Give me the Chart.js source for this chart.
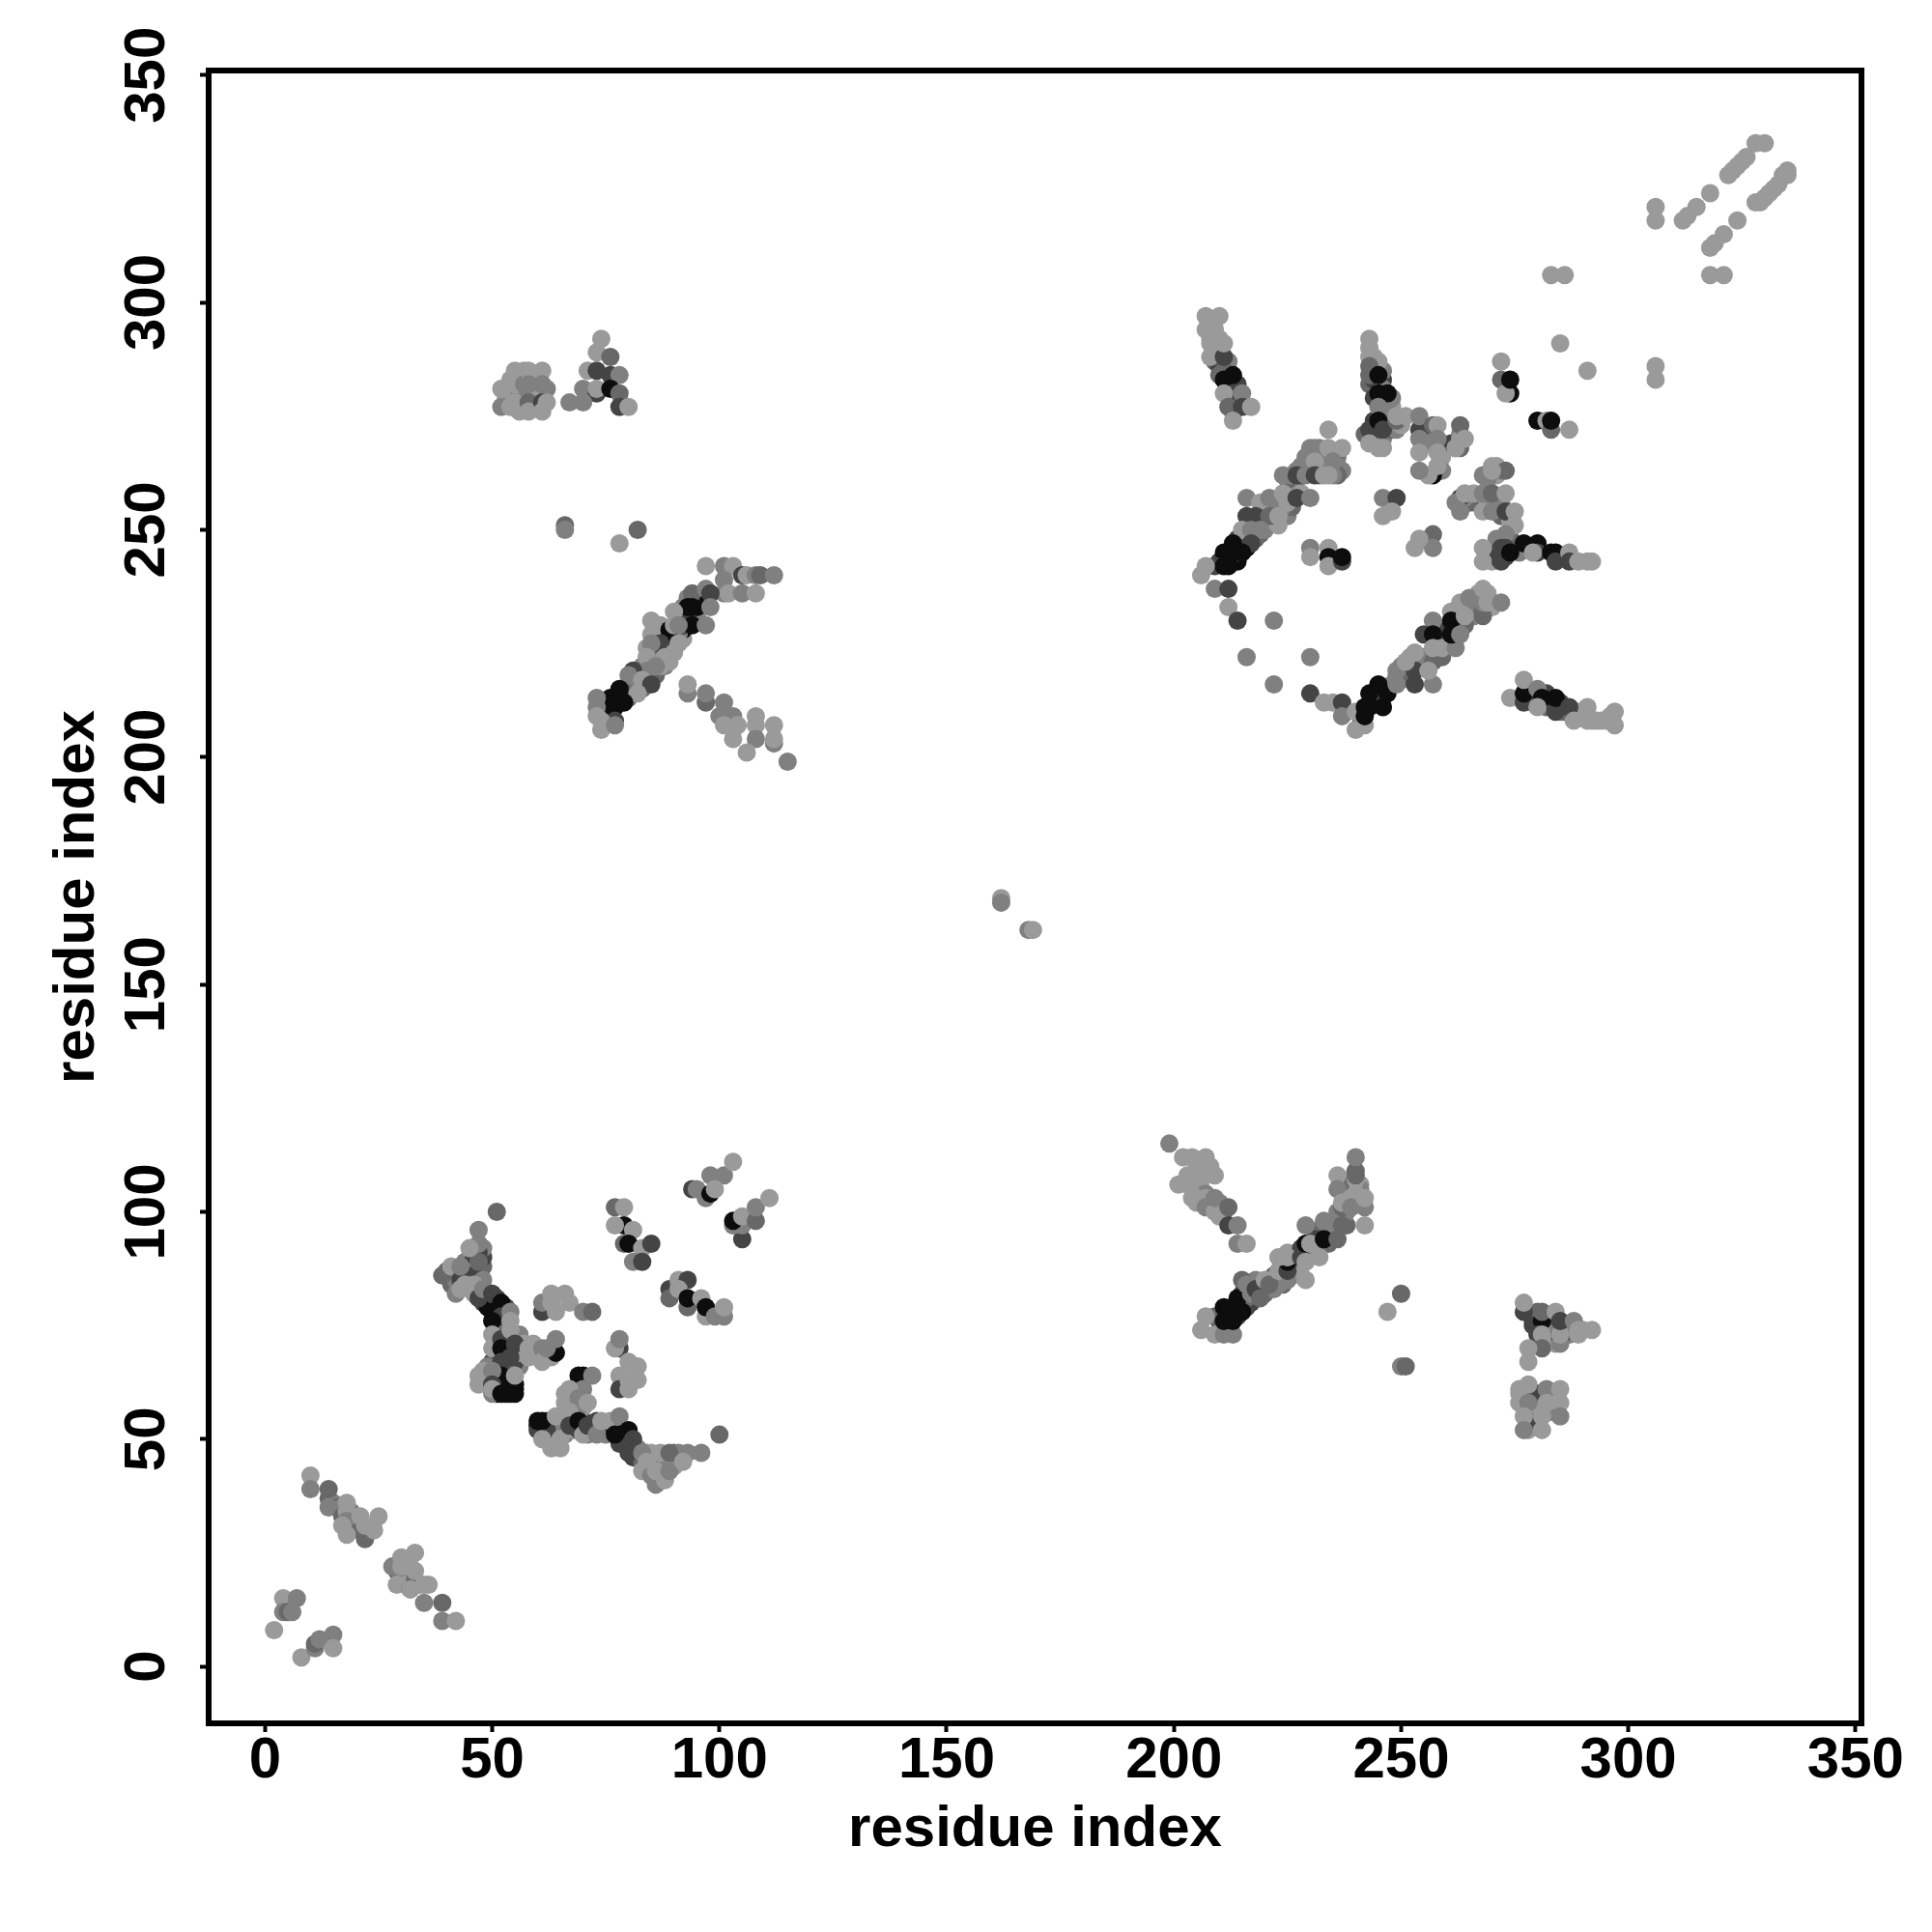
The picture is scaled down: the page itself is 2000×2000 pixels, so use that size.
<!DOCTYPE html>
<html>
<head>
<meta charset="utf-8">
<title>contact map</title>
<script src="https://cdn.jsdelivr.net/npm/chart.js@4/dist/chart.umd.min.js"></script>
<style>
  html, body { margin: 0; padding: 0; background: #fff; }
  canvas { display: block; }
</style>
</head>
<body>
<canvas id="contact_map" width="2000" height="2000"></canvas>
<script>
// each contact: [residue i, residue j, strength 0 (weak) .. 4 (strong)]
const nearDiagonalStart = [
  [10,42,0],[10,39,1],[14,39,2],[14,35,1],[17,33,2],[18,36,0],[18,34,0],[18,32,1],[17,31,0],[21,30,2],[22,28,2],[18,29,0],[22,31,0],[21,33,0],[25,33,0],[24,30,0],
  [28,22,1],[33,25,0],[30,24,0],[30,22,0],[33,21,0],[29,18,0],[32,17,2],[32,17,0],[35,18,0],[36,18,0],[35,14,1],[39,14,2],[39,10,1],[42,10,0],
  [4,15,0],[7,15,1],[4,12,1],[5,12,2],[6,12,1],[2,8,0],[8,2,0],[11,4,1],[11,5,2],[12,6,1],[15,7,1],[15,4,0]
];
const lowerLeftBlock = [
  [51,100,2],[47,96,1],[47,91,3],[47,93,1],[47,89,2],[45,92,0],[39,86,2],[41,88,0],[43,85,3],[43,88,1],[43,83,0],[44,84,0],[46,84,0],[47,81,3],[48,83,1],[50,82,3],
  [52,80,4],[50,78,4],[52,77,3],[50,76,4],[54,78,1],[54,76,0],[50,73,0],[50,70,0],[52,72,3],[52,70,4],[54,74,0],[55,71,3],[54,68,3],[58,70,0],[58,68,0],[61,70,1],[61,67,0],[64,69,4],[62,70,1],[64,72,1],
  [52,67,3],[52,64,4],[53,62,4],[48,65,0],[48,63,0],[50,65,1],[50,62,3],[50,61,0],[52,60,4],[54,60,4],[55,61,4],[55,64,0],
  [61,78,3],[61,80,1],[63,82,0],[66,82,0],[64,78,0],[67,80,0],[63,80,0],[70,78,1],[72,78,2],
  [77,101,2],[79,101,0],[79,97,4],[77,97,0],[81,96,0],[79,93,2],[80,93,4],[83,92,0],[85,93,3],[81,89,1],[83,89,3],
  [98,108,1],[101,108,1],[103,111,0],[94,105,3],[95,105,1],[97,103,1],[98,104,4],[99,105,0],
  [105,94,3],[105,97,1],[103,97,1],[103,98,4],[105,99,0],[108,98,2],[108,101,1],[111,103,0],
  [89,83,3],[89,81,2],[91,85,0],[93,85,3],[91,83,0],[93,79,2],[93,81,4],[96,81,0],[97,77,0],[97,79,4],[99,77,1],[101,77,1],[101,79,0],
  [78,70,3],[77,70,0],[78,72,1],[80,67,0],[82,66,0],[78,64,0],[78,61,3],[80,61,0],[80,63,0],[82,63,0],
  [69,64,4],[70,64,4],[72,64,1],[70,61,1],[67,61,0],[67,58,0],[69,59,1],[71,58,0],[67,56,0],
  [60,52,3],[62,52,3],[60,54,4],[61,54,4],[64,55,0],[61,50,0],[63,48,0],[65,48,0],[65,50,0],[67,53,3],[69,54,4],[70,51,0],[71,53,3],[73,54,3],[73,51,1],[74,54,0],[76,54,0],[78,55,1],
  [77,51,4],[80,52,4],[81,50,3],[80,47,3],[83,47,1],[87,47,0],[84,45,0],[83,43,0],[86,40,1],[85,42,1],[86,43,0],[88,41,0],[89,47,2],[89,43,1],[93,47,1],[92,45,0],[96,47,1],[100,51,2]
];
const lowerRightBlock = [
  [199,115,1],[202,112,0],[204,112,0],[207,112,0],[207,111,0],[203,108,0],[201,106,0],[207,108,0],[209,108,0],[204,103,0],[205,103,0],[207,101,1],[209,100,0],[209,103,1],[212,101,2],[212,97,3],[214,97,1],[214,93,1],[216,93,0],
  [209,77,2],[207,77,0],[206,74,0],[209,73,0],[211,73,1],[213,73,1],[211,79,4],[211,76,4],[213,76,4],[213,79,4],[215,78,4],[214,81,4],
  [215,85,2],[216,84,1],[217,82,1],[218,83,3],[219,81,2],[220,85,0],[221,84,2],[225,85,1],[223,87,0],[225,87,3],[225,89,4],[223,90,0],[225,90,0],
  [228,90,3],[229,93,4],[229,89,0],[230,93,0],[232,90,0],[229,97,1],[229,85,0],[233,94,4],[233,98,1],[236,94,2],[237,97,2],
  [240,112,1],[240,107,0],[240,108,2],[236,108,0],[236,105,1],[237,101,2],[240,104,0],[239,103,0],[237,102,0],[239,101,1],[242,101,1],[242,103,0],[242,97,0],
  [250,82,2],[247,78,0],[250,66,1],[251,66,2],
  [277,78,3],[277,80,0],[281,76,4],[281,78,2],[284,78,0],[280,73,3],[281,73,0],[285,72,3],[285,71,1],[285,73,0],[285,76,3],[288,76,1],[289,73,0],[289,74,0],[292,74,0],[281,70,2],[278,70,0],[278,67,0],
  [277,59,3],[278,54,3],[280,60,3],[276,61,0],[278,62,0],[276,58,0],[278,58,1],[282,61,1],[285,61,0],[285,58,0],[282,58,0],[285,55,1],[277,55,0],[281,55,0],[277,52,1],[281,52,0]
];
const upperLeftBlock = [
  [52,281,0],[52,277,1],[54,277,0],[55,285,0],[55,282,0],[55,278,0],[57,282,1],[58,285,0],[58,282,1],[58,278,2],[58,276,0],[61,285,0],[61,282,1],[61,278,3],[61,276,0],[62,278,0],
  [74,292,0],[73,289,0],[76,288,2],[71,285,0],[73,285,3],[76,284,3],[78,284,1],[70,281,1],[73,280,3],[73,281,0],[76,281,4],[78,280,2],[67,278,1],[70,278,1],[78,277,3],[80,277,0],
  [66,251,2],[66,250,1],[82,250,2],[78,247,0],
  [97,242,0],[101,242,1],[103,242,0],[105,240,3],[106,240,0],[108,240,1],[109,240,2],[112,240,1],[101,239,1],[101,236,1],[102,236,0],[105,236,1],[108,236,0],
  [94,236,2],[97,237,1],[98,236,3],[98,233,1],[93,233,4],[94,233,4],[90,232,0],[94,229,4],[97,229,1],[85,230,0],[87,229,0],[89,228,4],[90,229,0],[91,229,1],[89,225,4],[91,225,0],[87,225,3],[90,223,0],[85,225,1],[88,222,0],[84,222,0],[86,220,1],[84,219,1],[81,219,3],[80,218,1],[83,217,0],[85,216,3],[82,214,0],
  [78,215,4],[76,213,4],[79,212,4],[76,210,4],[77,211,4],[77,208,3],[73,213,1],[73,211,1],[73,209,0],[74,208,0],[74,206,0],[77,207,1],
  [93,214,1],[93,216,0],[97,212,2],[97,214,1],[101,212,1],[100,209,1],[103,209,1],[101,207,0],[104,207,0],[108,209,0],[112,207,0],[108,207,0],[103,204,0],[108,204,1],[112,203,1],[112,204,0],[106,201,0],[115,199,1]
];
const upperRightBlock = [
  [207,297,0],[210,297,0],[207,294,0],[208,292,0],[208,291,0],[208,288,0],[211,288,3],[210,292,0],[211,291,0],[210,284,2],[211,283,4],[213,284,4],[213,280,3],[211,280,0],[215,280,1],[212,277,2],[215,277,3],[217,277,0],[213,274,0],
  [243,292,0],[243,290,0],[243,288,0],[245,287,0],[243,286,2],[243,284,2],[245,284,4],[245,280,4],[247,280,4],[245,277,1],[247,276,1],[243,272,3],[244,272,3],[245,274,4],[246,272,3],[243,269,0],[245,268,0],[246,268,0],[249,274,2],[249,275,0],[251,275,0],
  [254,272,3],[254,275,1],[254,270,1],[254,267,0],[257,273,2],[258,273,0],[258,270,1],[258,267,0],[257,262,4],[256,262,0],[254,263,1],[258,264,0],[263,273,2],[262,268,1],[262,268,0],[264,270,0],
  [272,287,0],[272,283,2],[274,280,4],[273,280,0],[274,283,4],[280,274,4],[282,274,0],[283,272,2],[283,274,4],[287,272,0],[285,291,0],[291,285,0],
  [234,272,0],[230,268,1],[231,268,1],[234,268,0],[237,268,0],[235,265,1],[231,265,0],[234,262,0],[224,262,1],[227,263,1],[227,262,3],[229,262,1],[231,262,3],[233,262,0],
  [216,257,1],[219,256,0],[221,257,1],[224,258,0],[227,257,3],[230,257,1],[216,253,3],[218,253,3],[221,253,2],[223,253,0],[215,250,0],[217,250,1],[219,250,1],
  [217,247,3],[213,247,4],[211,245,4],[215,245,4],[213,245,4],[209,242,3],[211,242,4],[212,242,4],[207,242,0],[206,240,0],[209,237,1],[212,233,0],[212,237,3],[214,230,3],[222,230,1],[216,222,1],[230,222,1],[222,216,1],[230,214,3],[233,212,0],[235,212,0],[237,212,3],[237,209,1],
  [240,210,0],[240,206,0],[242,207,0],[242,209,4],[242,211,4],[243,214,4],[246,211,4],[245,216,4],[247,214,4],[249,219,1],[249,216,1],[253,216,3],[253,219,3],[251,221,0],[253,223,0],
  [257,230,1],[255,227,3],[257,227,4],[257,221,2],[257,224,0],[259,224,0],[262,224,1],[257,216,1],[256,219,0],
  [261,230,4],[261,227,4],[263,227,1],[263,234,0],[265,235,1],[264,231,0],[268,231,2],[268,234,1],[268,237,0],[269,234,0],[272,234,1],
  [230,246,1],[230,244,0],[234,246,0],[234,244,4],[234,242,0],[237,243,3],[237,244,4],
  [246,257,1],[249,257,3],[246,253,0],[248,254,0],[257,249,2],[257,246,1],[254,248,0],[253,246,0],
  [270,264,0],[273,263,2],[268,262,1],[270,263,0],[263,257,3],[262,256,1],[264,258,0],[263,254,1],[268,258,1],[270,258,2],[273,258,0],[268,254,0],[270,254,1],[273,254,3],[275,254,0],[275,251,0],
  [268,246,0],[268,243,0],[273,249,1],[272,246,3],[273,246,3],[272,243,3],[274,245,4],[277,247,4],[280,247,4],[280,245,3],[279,245,0],[283,245,4],[284,245,4],[284,243,3],[287,245,0],[287,243,3],[289,243,0],[291,243,0],[292,243,0],
  [274,213,0],[277,212,3],[277,214,4],[277,217,0],[280,215,1],[281,213,4],[280,211,0],[284,210,3],[284,213,4],[287,211,3],[288,208,0],[291,211,0],[292,208,0],[294,208,0],[297,210,0],[297,207,0]
];
const centreContacts = [[162,169,0],[162,168,1],[168,162,1],[169,162,0]];
const tailContacts = [
  [328,335,0],[330,335,0],[322,328,0],[323,329,0],[324,330,0],[325,331,0],[326,332,0],
  [335,329,0],[335,328,0],[334,328,0],[328,322,0],[329,322,0],[330,323,0],[331,324,0],[332,325,0],[333,326,0],
  [318,324,0],[315,321,0],[313,319,0],[312,318,0],[306,321,0],[306,318,0],[324,318,0],[321,315,0],[319,313,0],[318,312,0],
  [318,306,0],[321,306,0],[283,306,0],[286,306,0],[306,286,0],[306,283,0]
];

// denser contacts that sit underneath the ones above
const nearDiagonalBand = [
  [14,37,2],[15,36,1],[16,35,2],[17,35,1],[19,34,1],[20,32,1],[20,31,1],[23,30,1],[22,29,2],[19,30,0],[29,21,2],[31,20,1],[30,19,1],[31,18,0],[33,18,1],[34,18,0],[33,19,2],[32,22,0],[31,23,0]
];
const lowerLeftBand = [
  [41,84,2],[42,82,1],[44,89,1],[46,88,3],[46,90,3],[46,92,0],[48,88,2],[48,90,3],[48,92,1],[55,60,4],[54,63,4],[50,63,3],[50,67,3],[51,60,4],[53,74,3],[52,75,4],[51,74,2],[52,73,4],
  [40,87,2],[41,86,1],[42,85,1],[42,87,2],[44,87,1],[44,86,2],[45,86,1],[45,84,1],[46,86,3],[46,82,0],[48,85,1],[48,80,3],[49,81,3],[49,79,4],[51,79,4],[51,81,3],[51,77,4],[53,79,3],[53,75,1],[53,73,2],[53,71,4],[54,72,3],[51,72,1],[51,70,2],[53,69,3],[54,70,4],[56,73,1],[56,70,3],[56,66,1],[55,67,3],[53,66,2],[51,67,3],[49,66,1],[49,64,2],[51,64,3],[51,62,4],[53,60,4],[53,64,3],[49,62,1],[47,64,0],[47,62,0],[50,60,1],[55,62,4],[54,61,4],
  [56,69,0],[57,71,0],[59,69,0],[60,68,0],[59,71,0],[63,70,1],[63,68,0],
  [60,53,4],[61,52,4],[62,54,3],[62,50,0],[63,52,2],[63,50,1],[64,53,3],[64,51,0],[66,53,3],[66,51,1],[65,54,1],[68,53,3],[68,55,1],[68,52,0],[69,52,3],[70,54,3],[70,53,4],[71,51,1],[72,53,3],[72,52,2],[74,52,1],[75,53,0],[75,51,1],[76,52,1],[77,52,4],[78,52,4],[79,50,4],[78,49,3],[80,49,3],[81,48,2],[82,46,1],[81,46,3],[82,48,1],[83,45,2],[84,47,1],[84,43,1],[85,44,2],[85,47,0],[86,45,1],[87,44,1],[87,42,0],[88,45,2],[88,46,1],[90,46,1],[90,44,0],[90,47,2],[91,47,1],
  [66,60,0],[66,58,0],[68,59,0],[68,56,0],[66,55,1],[70,57,0],[69,57,1]
];
const lowerRightBand = [
  [218,85,1],[219,82,3],[220,83,3],[222,85,3],[223,85,3],[224,84,2],[217,80,3],[215,82,3],[224,89,3],[226,89,4],
  [210,76,4],[212,78,4],[212,75,4],[214,77,3],[215,80,4],[216,79,3],[216,81,2],[217,84,1],[218,82,2],[219,83,2],[220,82,2],[220,84,1],[221,83,2],[222,83,1],[222,86,2],[223,84,1],[223,86,1],[224,85,1],[224,87,2],[226,86,1],[226,88,1],[227,87,1],[227,89,1],[228,86,0],[227,91,0],[226,90,3],[224,90,1],[225,91,0],[228,92,3],[230,91,1],[231,92,1],[232,96,2],[231,94,3],[234,93,2],[235,96,3],[234,97,1],[238,97,2],[238,100,1],[236,100,1],[238,104,1],[237,106,1],[241,102,1],[241,106,0],[241,105,1],[239,105,1],[238,107,0],[239,106,2],[240,109,2],
  [203,106,0],[205,110,0],[206,109,0],[205,108,0],[208,110,0],[206,105,0],[207,104,1],[208,102,0],[210,102,1],[211,100,2],[207,103,0],[206,102,1],[205,102,0],[210,99,0],
  [279,76,3],[280,78,2],[282,75,4],[283,77,1],[283,75,3],[284,74,2],[283,73,1],[286,75,2],[287,74,1],[287,73,1],[290,74,0],[279,75,3],[282,72,3],[284,71,0],
  [276,60,0],[277,57,1],[279,60,0],[279,57,1],[278,56,0],[280,58,0],[281,60,1],[282,60,0],[283,59,0],[284,57,0],[281,57,0],[283,56,1],[279,53,0],[278,52,0]
];
const upperLeftBand = [
  [80,213,2],[81,214,1],[82,216,3],[83,215,2],[84,216,1],[84,218,3],[85,219,2],[85,218,1],[86,218,2],[82,219,1],[83,220,1],[85,223,1],[86,226,2],[87,227,1],[88,227,2],[88,220,1],[87,220,0],[89,222,1],[90,225,1],[90,227,4],[92,226,0],[89,221,0],[84,224,0],[85,227,0],[86,229,0],[92,233,1],[95,231,1],[96,234,2],[95,235,4],[93,235,1],[92,228,4],[95,233,4],
  [53,279,0],[54,283,0],[56,284,0],[57,285,0],[59,283,0],[60,284,0],[56,280,1],[59,279,1],[60,280,0],[57,277,0],[59,277,0],[60,277,0],[56,276,0],[62,281,1],
  [77,212,4],[78,213,4],[79,214,4],[80,215,3],[81,216,2],[83,218,2],[82,217,1],[84,220,2],[85,221,1],[86,222,1],[86,224,1],[87,223,2],[88,224,1],[88,226,0],[89,227,3],[91,227,1],[92,231,0],[91,232,1],[92,229,3],[93,231,3]
];
const upperRightBand = [
  [213,243,4],[210,243,3],[214,243,4],[216,246,4],[214,248,3],[216,250,1],[218,248,2],[218,252,2],[219,249,2],[220,250,1],[220,251,2],[221,251,1],[223,255,1],[225,253,1],[226,255,2],[223,251,0],[227,259,1],[228,258,0],[231,264,2],[233,267,2],[235,263,2],[236,266,1],[236,267,2],[234,267,1],[232,263,3],
  [212,244,4],[214,245,3],[215,247,3],[216,248,2],[217,249,2],[218,250,2],[219,251,1],[220,252,1],[220,253,2],[222,254,1],[222,252,0],[224,255,1],[225,256,0],[226,257,0],
  [241,209,4],[243,211,4],[244,212,4],[245,213,4],[246,214,3],[247,215,3],[248,216,1],[249,218,1],[250,217,1],[250,220,1],[251,218,2],[252,220,1],[252,222,0],[253,221,2],[254,221,1],[255,222,1],
  [244,270,3],[242,271,2],[244,274,3],[246,274,2],[246,270,1],[247,272,1],[248,274,1],[248,272,2],[249,272,1],[250,273,0],[256,272,2],[255,271,2],[256,269,1],[257,269,1],[259,268,0],[259,266,0],[259,263,1],[261,269,3],[263,271,1],[263,268,2],[263,270,0],
  [269,245,0],[270,245,0],[270,243,0],[271,244,3],[272,248,3],[273,244,3],[274,248,3],[275,247,2],[276,245,1],[271,248,1],[271,257,1],[269,257,1],[272,256,1],[272,253,2],[274,252,0],[269,255,1],[267,257,1],[266,256,0],[265,256,2],[264,257,1],[266,258,0],[269,262,0],[271,262,0],[272,263,1],[271,264,0],[269,261,1],
  [278,213,3],[279,212,3],[282,214,3],[282,211,2],[283,212,3],[285,212,3],[285,210,1],[286,210,2],[288,210,1],[289,209,1],[290,209,0],[289,210,0],[293,208,0],[295,208,0],[296,208,0],[296,209,0],[290,210,0],[291,208,0],
  [259,222,2],[260,226,3],[262,228,0],[262,231,1],[263,230,1],[264,233,0],[265,232,1],[265,233,0],[266,231,1],[266,234,1],[267,236,0],[267,233,1],[268,232,2],[269,236,0],[270,233,0],[261,232,0],[260,228,3],[264,229,2],
  [228,262,3],[230,263,1],[232,265,1],[232,268,1],[233,266,1],[234,264,1],[235,267,0],[236,264,1],[237,263,1],[236,262,2],[235,262,1],[233,264,1],[232,262,2],[225,261,2],[226,262,1],[228,264,1],[230,265,1],[229,266,1],
  [209,294,0],[209,290,0],[210,289,0],[209,287,2],[210,286,3],[212,285,3],[212,287,1],[211,285,2],[212,282,3],[212,280,4],[213,278,4],[214,282,3],[214,278,2],[213,276,2],[215,278,2],
  [243,282,2],[244,283,3],[246,283,3],[246,285,1],[244,288,0],[244,285,1],[246,281,1],[246,279,3],[244,279,3],[246,277,1],[248,277,0],[248,279,1]
];
// datasets paint last to first, so the band lists go at the end
const contactGroups = [nearDiagonalStart, lowerLeftBlock, lowerRightBlock, upperLeftBlock, upperRightBlock, centreContacts, tailContacts,
  nearDiagonalBand, lowerLeftBand, lowerRightBand, upperLeftBand, upperRightBand];

const strengthGreys = ["#9a9a9a", "#808080", "#686868", "#444444", "#0d0d0d"];
const tickStep = 50;
const axisTitle = "residue index";

const font = { family: "'Liberation Sans'", weight: "bold", size: 60 };

const frame = {
  id: "frame",
  afterDatasetsDraw(chart) {
    const { ctx, chartArea: a } = chart;
    ctx.save();
    ctx.strokeStyle = "#000";
    ctx.lineWidth = 6;
    ctx.strokeRect(a.left, a.top, a.right - a.left, a.bottom - a.top);
    ctx.restore();
  },
};

new Chart("contact_map", {
  type: "scatter",
  data: {
    datasets: contactGroups.map((rows) => ({
      data: rows.map((r) => ({ x: r[0], y: r[1], s: r[2] })),
      backgroundColor: (c) => strengthGreys[c.raw ? c.raw.s : 0],
      borderWidth: 0,
      pointRadius: 9.5,
      pointHoverRadius: 9.5,
    })),
  },
  options: {
    responsive: false,
    animation: false,
    layout: { padding: { left: 0, right: 73, top: 73, bottom: 0 } },
    plugins: { legend: { display: false }, tooltip: { enabled: false } },
    scales: {
      x: {
        min: -12.4,
        max: 351.3,
        afterFit: (s) => { s.height = 216; },
        border: { display: false },
        grid: { drawOnChartArea: false, tickLength: 9, tickWidth: 4, tickColor: "#000" },
        ticks: { stepSize: tickStep, includeBounds: false, color: "#000", font, padding: -6, maxRotation: 0, autoSkip: false },
        title: { display: true, text: axisTitle, color: "#000", font, padding: { top: 0, bottom: 70 } },
      },
      y: {
        min: -12.5,
        max: 351,
        afterFit: (s) => { s.width = 216; },
        border: { display: false },
        grid: { drawOnChartArea: false, tickLength: 9, tickWidth: 4, tickColor: "#000" },
        ticks: { stepSize: tickStep, includeBounds: false, color: "#000", font, padding: 3, minRotation: 90, maxRotation: 90, crossAlign: "center", autoSkip: false },
        title: { display: true, text: axisTitle, color: "#000", font, padding: { top: 44, bottom: 0 } },
      },
    },
  },
  plugins: [frame],
});
</script>
</body>
</html>
